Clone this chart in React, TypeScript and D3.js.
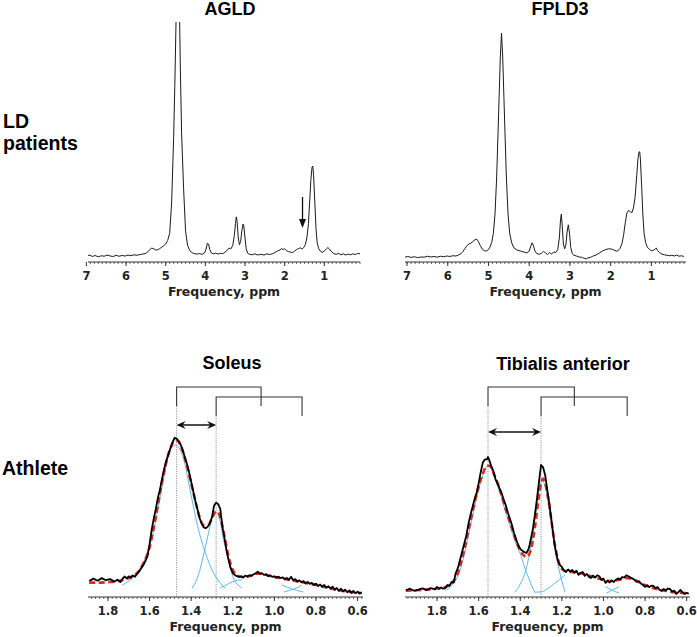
import React from "react"
import * as d3 from "d3"

type Pt = [number, number]

// LD patients, [ppm, intensity]
const agldSpectrum: Pt[] = [
  [7.05,2.6],[7.0,2.4],[6.92,2.9],[6.85,2.3],[6.78,2.7],[6.7,2.2],[6.62,2.6],[6.55,2.4],[6.48,2.9],[6.4,2.5],
  [6.32,2.3],[6.25,2.8],[6.18,2.4],[6.1,2.7],[6.02,2.5],[5.95,2.9],[5.88,2.6],[5.8,3.0],[5.72,2.8],[5.65,3.1],
  [5.58,3.3],[5.5,3.6],[5.45,4.3],[5.4,5.2],[5.35,5.8],[5.3,5.5],[5.25,5.0],[5.2,5.1],[5.15,5.6],[5.1,6.2],
  [5.05,6.8],[5.0,7.5],[4.95,9],[4.9,12],[4.85,25],[4.8,52],[4.77,74],[4.74,100],[4.715,125],[4.69,130],
  [4.665,118],[4.63,80],[4.6,54],[4.55,31],[4.5,13],[4.45,7],[4.4,5],[4.35,4],[4.3,3.6],[4.22,3.3],
  [4.15,3.5],[4.08,3.2],[4.02,3.8],[3.98,5.5],[3.95,7.8],[3.92,7.5],[3.89,5.2],[3.85,3.8],[3.8,3.4],[3.74,3.7],
  [3.68,3.3],[3.62,3.6],[3.56,3.5],[3.5,4.1],[3.45,5.0],[3.4,5.8],[3.36,5.4],[3.31,6.8],[3.27,11],[3.24,16],
  [3.22,18.8],[3.2,17],[3.17,10],[3.14,7.2],[3.11,8.5],[3.08,13],[3.05,15.8],[3.03,15],[3.0,10],[2.97,5.5],
  [2.93,3.6],[2.88,3.2],[2.82,3.0],[2.75,3.4],[2.68,2.9],[2.6,3.2],[2.52,2.9],[2.45,3.4],[2.38,3.1],[2.3,3.5],
  [2.24,4.0],[2.18,4.6],[2.12,5.0],[2.08,5.6],[2.04,5.2],[2.0,5.5],[1.95,4.7],[1.9,4.3],[1.85,4.1],[1.8,3.9],
  [1.75,4.5],[1.7,5.2],[1.65,5.6],[1.6,5.9],[1.56,5.4],[1.52,6.0],[1.48,7.2],[1.44,10],[1.4,16],[1.37,25],
  [1.34,34],[1.31,39.5],[1.29,40],[1.27,36],[1.24,25],[1.21,14],[1.18,8],[1.14,5.5],[1.1,4.5],[1.05,4.0],
  [1.0,4.6],[0.95,5.4],[0.91,6.0],[0.87,5.4],[0.82,4.3],[0.76,3.5],[0.7,3.2],[0.64,3.6],[0.58,3.0],[0.52,3.4],
  [0.46,2.9],[0.4,3.3],[0.34,3.0],[0.28,3.4],[0.22,3.1],[0.16,3.6],[0.1,3.4],
]

const fpld3Spectrum: Pt[] = [
  [7.05,2.0],[6.98,2.3],[6.9,1.9],[6.82,2.2],[6.74,1.8],[6.66,2.1],[6.58,2.0],[6.5,2.4],[6.42,2.1],[6.34,2.3],
  [6.26,2.0],[6.18,2.4],[6.1,2.2],[6.02,2.5],[5.95,2.3],[5.88,2.6],[5.8,2.5],[5.74,2.9],[5.68,3.4],[5.63,4.3],
  [5.58,5.6],[5.53,6.8],[5.48,7.5],[5.43,7.9],[5.38,8.6],[5.33,9.3],[5.29,9.5],[5.25,8.6],[5.2,6.8],[5.15,5.3],
  [5.1,4.7],[5.05,4.6],[5.0,5.2],[4.96,6.3],[4.92,8.2],[4.88,12],[4.84,20],[4.8,35],[4.765,54],[4.74,68],
  [4.71,85],[4.68,95.4],[4.65,85],[4.62,68],[4.595,54],[4.56,35],[4.52,20],[4.48,12],[4.43,8],[4.38,6],
  [4.3,5.0],[4.22,4.6],[4.14,4.2],[4.06,3.8],[4.0,4.5],[3.96,6.6],[3.93,8.0],[3.9,7.0],[3.86,4.6],[3.82,3.6],
  [3.76,3.2],[3.7,3.6],[3.65,4.4],[3.6,3.8],[3.55,3.1],[3.5,3.9],[3.45,3.3],[3.4,4.2],[3.35,3.9],[3.3,5.2],
  [3.26,10],[3.23,18],[3.21,20],[3.19,15],[3.16,7.5],[3.13,5.5],[3.1,7.0],[3.07,12.5],[3.04,15.5],[3.01,12],
  [2.98,6],[2.94,3.4],[2.9,2.8],[2.84,2.5],[2.78,2.1],[2.72,2.0],[2.66,1.6],[2.6,1.3],[2.56,1.7],[2.5,1.9],
  [2.44,2.4],[2.36,2.9],[2.28,3.7],[2.2,4.6],[2.12,5.2],[2.05,5.5],[1.98,5.4],[1.92,5.0],[1.86,4.5],[1.82,4.7],
  [1.77,5.6],[1.72,7.8],[1.68,11.5],[1.64,16.5],[1.6,20.5],[1.56,21.5],[1.52,21],[1.48,20.5],[1.44,22.5],[1.4,27],
  [1.36,36],[1.33,43],[1.3,46],[1.285,45.8],[1.27,43],[1.24,32],[1.21,20],[1.18,12],[1.14,8],[1.1,6.2],
  [1.05,5.3],[1.0,4.7],[0.95,4.9],[0.91,5.3],[0.88,5.8],[0.85,4.8],[0.8,3.9],[0.74,3.3],[0.68,3.0],[0.62,2.8],
  [0.56,2.6],[0.5,2.8],[0.44,2.5],[0.38,2.9],[0.32,2.4],[0.26,2.6],[0.2,2.3],
]

// Athlete, soleus
const soleusObserved: Pt[] = [
  [1.89,10],[1.87,11.5],[1.85,10.2],[1.83,11.8],[1.81,10.5],[1.79,11.2],[1.77,9.6],[1.755,10.8],[1.74,9.4],[1.73,11.5],
  [1.72,12.8],[1.71,11.6],[1.70,12.9],[1.69,12.0],[1.68,13.5],[1.67,12.6],[1.66,14.5],[1.65,16],[1.64,18],[1.63,20],
  [1.62,22.5],[1.61,25.5],[1.60,33],[1.59,42],[1.58,49],[1.57,55],[1.56,62],[1.55,67],[1.54,74],[1.53,80],
  [1.52,85],[1.51,89],[1.50,93],[1.49,96.5],[1.48,99.5],[1.47,99],[1.46,97.5],[1.45,95],[1.44,91.5],[1.43,87],
  [1.42,83],[1.41,78],[1.40,72],[1.39,66],[1.38,60],[1.37,55],[1.36,49.5],[1.35,46],[1.34,43.5],[1.33,43],
  [1.32,44],[1.31,46],[1.30,50],[1.29,57],[1.28,59],[1.27,58],[1.26,55],[1.25,44],[1.24,37],[1.23,29],
  [1.22,23],[1.21,18],[1.20,15],[1.19,13.8],[1.18,13],[1.17,12.5],[1.16,12.9],[1.15,12.2],[1.14,13.4],[1.13,12.8],
  [1.12,13.6],[1.11,13.2],[1.10,14.2],[1.09,14.8],[1.08,15.8],[1.07,14.6],[1.06,14.9],[1.05,13.8],[1.04,14.2],[1.03,13.1],
  [1.02,13.5],[1.01,12.6],[1.00,12.9],[0.99,12.1],[0.98,12.7],[0.97,11.8],[0.96,12.3],[0.95,11.2],[0.94,11.9],[0.93,10.8],
  [0.92,12.6],[0.91,10.5],[0.90,11.2],[0.89,9.8],[0.88,10.4],[0.87,9.2],[0.86,9.9],[0.85,8.6],[0.84,9.4],[0.83,8.2],
  [0.82,8.8],[0.81,7.6],[0.80,8.3],[0.79,6.9],[0.78,7.8],[0.77,6.4],[0.76,7.5],[0.75,5.8],[0.74,6.7],[0.73,5.3],
  [0.72,6.4],[0.71,4.6],[0.70,5.6],[0.69,3.8],[0.68,5.2],[0.67,3.5],[0.66,4.6],[0.65,3.0],[0.64,4.1],[0.63,2.6],
  [0.62,3.8],[0.61,2.4],[0.60,3.3],[0.59,2.2],[0.58,2.8],
]

const soleusFit: Pt[] = [
  [1.89,9],[1.85,9],[1.80,9.3],[1.75,10],[1.72,11],[1.69,12.5],[1.66,15],[1.63,21],[1.60,31],[1.57,50],
  [1.54,72],[1.51,89],[1.49,96],[1.475,98],[1.46,97],[1.44,91],[1.42,82],[1.40,71],[1.38,60],[1.36,50],
  [1.34,45],[1.32,45],[1.30,49],[1.285,53],[1.275,53.5],[1.26,50],[1.24,38],[1.22,25],[1.20,17],[1.18,13.5],
  [1.15,12.5],[1.12,13],[1.09,14.5],[1.06,14.5],[1.03,13.5],[1.0,12.5],[0.97,11.8],[0.94,11],[0.91,10.3],[0.88,9.6],
  [0.85,8.8],[0.82,8],[0.79,7.2],[0.76,6.3],[0.73,5.3],[0.70,4.5],[0.67,3.8],[0.64,3.2],[0.61,2.8],[0.58,2.5],
]

const soleusComponents: Pt[][] = [
  [[1.73,7.5],[1.70,10],[1.67,13.5],[1.64,19],[1.61,28],[1.58,42],[1.55,62],[1.52,82],[1.50,92],[1.475,95],
   [1.45,91],[1.43,83],[1.41,70],[1.39,57],[1.37,45],[1.35,35],[1.33,27],[1.31,20],[1.29,14.5],[1.27,10.5],
   [1.25,7.2],[1.235,5.5]],
  [[1.396,5.6],[1.38,9],[1.36,16],[1.343,25],[1.32,38],[1.30,49],[1.28,53],[1.26,47],[1.245,36],[1.228,27.5],
   [1.21,17],[1.19,10],[1.17,7],[1.156,5.6]],
  [[1.262,5.6],[1.24,7],[1.22,8.4],[1.20,9.6],[1.18,10.4],[1.156,10.8]],
  [[0.965,7.5],[0.94,6.2],[0.915,5],[0.89,4],[0.86,3.1]],
  [[0.955,3.1],[0.93,4],[0.905,5],[0.885,6.2],[0.87,7.5]],
]

// Athlete, tibialis anterior
const tibialisObserved: Pt[] = [
  [1.95,4.2],[1.93,5.2],[1.91,3.9],[1.89,4.6],[1.87,5.4],[1.85,4.3],[1.83,5.6],[1.81,4.8],[1.80,6.3],[1.79,5.1],
  [1.78,6.0],[1.77,5.2],[1.76,5.6],[1.75,7.5],[1.74,7.0],[1.73,9.4],[1.72,9.0],[1.71,15],[1.70,18],[1.69,23],
  [1.68,28],[1.67,33],[1.66,38],[1.65,45],[1.64,51],[1.63,56],[1.62,61],[1.61,65],[1.60,71],[1.59,78],
  [1.58,84],[1.57,86],[1.56,86],[1.555,87.5],[1.55,86],[1.54,82],[1.53,79],[1.52,74],[1.51,71],[1.50,68],
  [1.49,65],[1.48,61],[1.47,57.5],[1.46,53],[1.45,49],[1.44,45],[1.43,40],[1.42,36],[1.41,32.5],[1.40,30],
  [1.39,29],[1.38,28],[1.37,27.5],[1.36,30],[1.355,32.5],[1.34,42],[1.33,51],[1.32,61],[1.31,72],[1.30,82.5],
  [1.29,81],[1.28,76],[1.27,67],[1.26,58],[1.25,48],[1.24,38],[1.235,32.5],[1.22,23],[1.21,20],[1.20,18.8],
  [1.19,16.5],[1.18,15.6],[1.17,17.2],[1.16,15.9],[1.15,16.9],[1.14,15.2],[1.13,16.4],[1.12,13.8],[1.11,15.0],[1.10,15.6],
  [1.09,13.2],[1.08,14.4],[1.07,12.6],[1.06,11.9],[1.05,13.4],[1.04,12.1],[1.03,13.6],[1.02,13],[1.01,10.8],[1.00,11.5],
  [0.99,8.8],[0.98,10.2],[0.97,9.1],[0.96,10.3],[0.95,9.4],[0.94,10.8],[0.93,11.6],[0.92,11.0],[0.91,12.5],[0.90,12.1],
  [0.89,13.6],[0.88,13],[0.87,12.2],[0.86,11.5],[0.85,10.6],[0.84,9.4],[0.83,9.9],[0.82,8.4],[0.81,7.5],[0.80,6.3],
  [0.79,7.4],[0.78,6.2],[0.77,7.1],[0.76,6.9],[0.75,5.6],[0.74,6.2],[0.73,4.4],[0.72,3.8],[0.71,5.0],[0.70,4.1],
  [0.69,5.3],[0.68,5.0],[0.67,3.4],[0.66,3.9],[0.65,1.9],[0.64,3.1],[0.63,4.4],[0.62,2.9],[0.61,1.9],[0.60,2.6],
  [0.59,2.0],
]

const tibialisFit: Pt[] = [
  [1.95,4],[1.90,4.2],[1.85,4.6],[1.80,5.3],[1.76,6.2],[1.73,8.5],[1.70,15],[1.67,29],[1.64,47],[1.61,64],
  [1.58,77],[1.56,82],[1.545,82],[1.53,78],[1.50,68],[1.47,55],[1.44,43],[1.41,32],[1.39,27],[1.37,25],
  [1.35,29],[1.33,43],[1.31,63],[1.30,71],[1.29,74],[1.28,71],[1.26,57],[1.24,38],[1.22,24],[1.20,17.5],
  [1.17,15.8],[1.14,15.5],[1.11,14.8],[1.08,13.8],[1.05,12.6],[1.02,11.4],[0.99,10.3],[0.96,10],[0.93,10.6],[0.90,11.6],
  [0.88,11.8],[0.85,10.6],[0.82,8.6],[0.79,6.8],[0.76,5.5],[0.73,4.5],[0.70,3.8],[0.67,3.2],[0.64,2.8],[0.61,2.5],
  [0.59,2.3],
]

const tibialisComponents: Pt[][] = [
  [[1.76,4],[1.73,7],[1.70,13],[1.67,26],[1.64,44],[1.61,62],[1.58,76],[1.555,82],[1.53,77],[1.50,66],
   [1.47,53],[1.44,41],[1.42,33],[1.40,27],[1.38,19],[1.36,12],[1.345,7],[1.33,3]],
  [[1.425,3],[1.40,8],[1.38,14],[1.36,24],[1.34,38],[1.32,57],[1.30,72],[1.295,73],[1.28,69],[1.26,54],
   [1.24,36],[1.22,21],[1.20,10],[1.185,3]],
  [[1.33,3],[1.30,3.2],[1.27,5],[1.24,8],[1.21,11],[1.185,13.8]],
  [[0.99,6.5],[0.955,4],[0.925,2.5]],
  [[0.985,2.5],[0.96,4],[0.925,6.5]],
]

const topTicks = [7, 6, 5, 4, 3, 2, 1]
const bottomTicks = [1.8, 1.6, 1.4, 1.2, 1.0, 0.8, 0.6]
const soleusBrackets: [number, number][] = [[1.47, 1.064], [1.28, 0.867]]
const tibialisBrackets: [number, number][] = [[1.555, 1.14], [1.30, 0.886]]
const agldArrowPpm = 1.55

const TICK_FONT = "'DejaVu Sans', sans-serif"
const TITLE_FONT = "'Liberation Sans', Arial, sans-serif"
const BLUE = "#45b4e2"
const RED = "#dd2a20"

const Axis = ({ x, y0, ticks, minorStep, fmt, labelY, tickY }: any) => {
  const [d0, d1] = x.domain()
  const lo = Math.min(d0, d1), hi = Math.max(d0, d1)
  const minor = d3.range(Math.ceil(lo / minorStep - 1e-6), Math.floor(hi / minorStep + 1e-6) + 1)
    .map(i => i * minorStep)
  const [r0, r1] = x.range()
  return (
    <g>
      <line x1={r0} x2={r1} y1={y0} y2={y0} stroke="#333" strokeWidth={1} />
      {minor.map((m, i) => (
        <line key={i} x1={x(m)} x2={x(m)} y1={y0} y2={y0 + 2} stroke="#444" strokeWidth={0.8} />
      ))}
      {ticks.map((t: number) => (
        <g key={t}>
          <line x1={x(t)} x2={x(t)} y1={y0} y2={y0 + 4} stroke="#333" strokeWidth={1} />
          <text x={x(t)} y={tickY} textAnchor="middle" fontFamily={TICK_FONT} fontWeight="bold"
            fontSize={11.5} fill="#222">{fmt(t)}</text>
        </g>
      ))}
      <text x={(r0 + r1) / 2} y={labelY} textAnchor="middle" fontFamily={TICK_FONT} fontWeight="bold"
        fontSize={12.5} fill="#222">Frequency, ppm</text>
    </g>
  )
}

const TopPanel = ({ data, xr, domain, id, arrowPpm }: any) => {
  const x = d3.scaleLinear().domain(domain).range(xr)
  const y = d3.scaleLinear().domain([0, 100]).range([262, 22])
  const line = d3.line<Pt>().x(d => x(d[0])).y(d => y(d[1]))
  return (
    <g>
      <defs>
        <clipPath id={id}>
          <rect x={xr[0]} y={22} width={xr[1] - xr[0]} height={240} />
        </clipPath>
      </defs>
      <path d={line(data) || ""} fill="none" stroke="#1a1a1a" strokeWidth={1} clipPath={`url(#${id})`} />
      {arrowPpm != null && (
        <g>
          <line x1={x(arrowPpm)} x2={x(arrowPpm)} y1={197} y2={222} stroke="#111" strokeWidth={1.3} />
          <path d={`M${x(arrowPpm) - 3.5},${219} L${x(arrowPpm) + 3.5},${219} L${x(arrowPpm)},${228} Z`} fill="#111" />
        </g>
      )}
      <Axis x={x} y0={262} ticks={topTicks} minorStep={0.1} fmt={(t: number) => String(t)} tickY={280} labelY={296} />
    </g>
  )
}

const BottomPanel = ({ observed, fit, components, brackets, xr, domain, arrowY }: any) => {
  const x = d3.scaleLinear().domain(domain).range(xr)
  const y = d3.scaleLinear().domain([0, 100]).range([597, 437])
  const line = d3.line<Pt>().x(d => x(d[0])).y(d => y(d[1]))
  const smooth = d3.line<Pt>().x(d => x(d[0])).y(d => y(d[1])).curve(d3.curveMonotoneX)
  const tops = [387, 397]
  const bottoms = [406, 416]
  const xa = x(brackets[0][0]), xb = x(brackets[1][0])
  return (
    <g>
      {brackets.map((b: [number, number], i: number) => (
        <g key={i}>
          <path d={`M${x(b[0])},${bottoms[i]} V${tops[i]} H${x(b[1])} V${bottoms[i]}`} fill="none"
            stroke="#333" strokeWidth={1.1} />
          <line x1={x(b[0])} x2={x(b[0])} y1={bottoms[i]} y2={597} stroke="#888" strokeWidth={0.9}
            strokeDasharray="1.2,1.2" />
        </g>
      ))}
      <g>
        <line x1={xa + 2} x2={xb - 2} y1={arrowY} y2={arrowY} stroke="#111" strokeWidth={1.3} />
        <path d={`M${xa},${arrowY} L${xa + 9},${arrowY - 4} L${xa + 6},${arrowY} L${xa + 9},${arrowY + 4} Z`} fill="#111" />
        <path d={`M${xb},${arrowY} L${xb - 9},${arrowY - 4} L${xb - 6},${arrowY} L${xb - 9},${arrowY + 4} Z`} fill="#111" />
      </g>
      {components.map((c: Pt[], i: number) => (
        <path key={i} d={smooth(c) || ""} fill="none" stroke={BLUE} strokeWidth={0.9} />
      ))}
      <path d={smooth(fit) || ""} fill="none" stroke={RED} strokeWidth={2.6} strokeDasharray="6,3.5" />
      <path d={line(observed) || ""} fill="none" stroke="#000" strokeWidth={1.8} strokeLinejoin="round" />
      <Axis x={x} y0={597} ticks={bottomTicks} minorStep={0.02} fmt={(t: number) => t.toFixed(1)} tickY={615} labelY={631} />
    </g>
  )
}

export default function App() {
  return (
    <svg width={697} height={637} style={{ position: "absolute", left: 0, top: 0, background: "#fff" }}>
      <text x={230} y={15} textAnchor="middle" fontFamily={TITLE_FONT} fontWeight="bold" fontSize={18}>AGLD</text>
      <text x={560} y={15} textAnchor="middle" fontFamily={TITLE_FONT} fontWeight="bold" fontSize={18}>FPLD3</text>
      <text x={232} y={369} textAnchor="middle" fontFamily={TITLE_FONT} fontWeight="bold" fontSize={18}>Soleus</text>
      <text x={563} y={370} textAnchor="middle" fontFamily={TITLE_FONT} fontWeight="bold" fontSize={18}>Tibialis anterior</text>
      <text x={3} y={128} fontFamily={TITLE_FONT} fontWeight="bold" fontSize={19.5}>LD</text>
      <text x={3} y={150} fontFamily={TITLE_FONT} fontWeight="bold" fontSize={19.5}>patients</text>
      <text x={2} y={475} fontFamily={TITLE_FONT} fontWeight="bold" fontSize={19.5}>Athlete</text>

      <TopPanel data={agldSpectrum} xr={[88, 360]} domain={[6.96, 0.1]} id="clip-agld" arrowPpm={agldArrowPpm} />
      <TopPanel data={fpld3Spectrum} xr={[405, 686]} domain={[7.05, 0.15]} id="clip-fpld3" />

      <BottomPanel observed={soleusObserved} fit={soleusFit} components={soleusComponents}
        brackets={soleusBrackets} xr={[88, 363]} domain={[1.896, 0.574]} arrowY={425} />
      <BottomPanel observed={tibialisObserved} fit={tibialisFit} components={tibialisComponents}
        brackets={tibialisBrackets} xr={[405, 690]} domain={[1.954, 0.584]} arrowY={432} />
    </svg>
  )
}
